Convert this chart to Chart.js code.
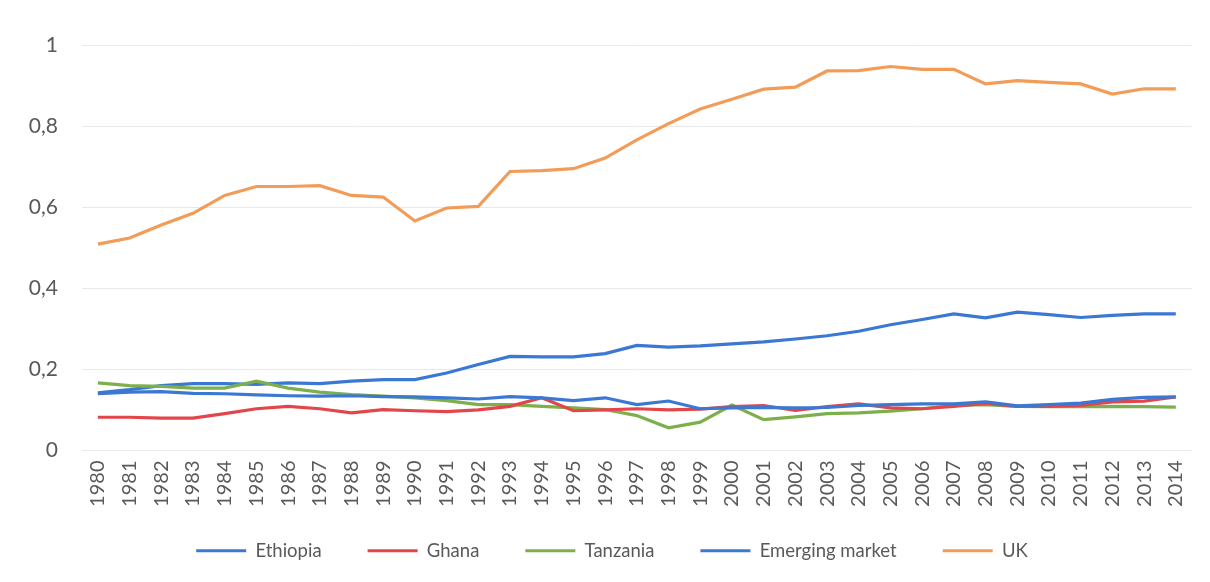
<!DOCTYPE html>
<html>
<head>
<meta charset="utf-8">
<script src="https://cdn.jsdelivr.net/npm/chart.js@4"></script>
<style>
html,body{margin:0;padding:0;background:#fff;}
#wrap{width:1210px;height:582px;position:relative;}
</style>
</head>
<body>
<div id="wrap"><canvas id="c" width="1210" height="582"></canvas></div>
<script>
const years = ["1980","1981","1982","1983","1984","1985","1986","1987","1988","1989","1990","1991","1992","1993","1994","1995","1996","1997","1998","1999","2000","2001","2002","2003","2004","2005","2006","2007","2008","2009","2010","2011","2012","2013","2014"];
const ethiopia = [0.140,0.144,0.145,0.141,0.140,0.137,0.135,0.134,0.135,0.133,0.132,0.130,0.127,0.133,0.130,0.123,0.130,0.113,0.122,0.103,0.105,0.106,0.105,0.106,0.111,0.113,0.115,0.115,0.120,0.110,0.113,0.117,0.126,0.131,0.132];
const ghana = [0.082,0.082,0.080,0.080,0.091,0.103,0.109,0.103,0.093,0.101,0.098,0.096,0.100,0.109,0.130,0.098,0.100,0.103,0.100,0.102,0.108,0.111,0.099,0.108,0.115,0.105,0.103,0.109,0.116,0.109,0.109,0.111,0.120,0.122,0.132];
const tanzania = [0.167,0.160,0.158,0.154,0.154,0.171,0.154,0.144,0.138,0.134,0.130,0.123,0.113,0.113,0.109,0.105,0.101,0.086,0.056,0.070,0.112,0.076,0.083,0.091,0.093,0.097,0.103,0.111,0.113,0.109,0.108,0.108,0.109,0.108,0.107];
const emerging = [0.142,0.150,0.160,0.165,0.165,0.163,0.167,0.165,0.171,0.175,0.175,0.191,0.212,0.232,0.231,0.231,0.239,0.259,0.255,0.258,0.263,0.268,0.275,0.283,0.294,0.310,0.323,0.337,0.327,0.341,0.335,0.328,0.333,0.337,0.337];
const uk = [0.509,0.524,0.556,0.585,0.629,0.651,0.651,0.653,0.629,0.625,0.566,0.598,0.602,0.688,0.690,0.695,0.721,0.766,0.806,0.842,0.866,0.891,0.896,0.936,0.937,0.947,0.940,0.940,0.904,0.912,0.908,0.904,0.879,0.892,0.892];
const seriesNames = ["Ethiopia","Ghana","Tanzania","Emerging market","UK"];
const yTicks = [0,0.2,0.4,0.6,0.8,1];

const colors = ["#3B78D3","#E2464B","#7DAF4C","#3B78D3","#F39C58"];
const seriesData = [ethiopia, ghana, tanzania, emerging, uk];

const datasets = seriesNames.map((n,i)=>({
  label:n,
  data:seriesData[i],
  borderColor:colors[i],
  backgroundColor:colors[i],
  borderWidth:3.2,
  pointRadius:0,
  tension:0,
  fill:false
}));

const FONT = "Lato, 'Open Sans', sans-serif";

// nudge the legend box after layout so its row sits where the reference has it
const legendShift = {
  id:'legendShift',
  afterLayout(chart){
    const lg = chart.legend;
    if (!lg) return;
    lg.top -= 15; lg.bottom -= 15;
    lg.left += 14; lg.right += 14;
  }
};

new Chart(document.getElementById('c'), {
  type:'line',
  data:{labels:years, datasets},
  plugins:[legendShift],
  options:{
    responsive:false,
    animation:false,
    layout:{padding:{left:0,right:14,top:45,bottom:-3}},
    plugins:{
      tooltip:{enabled:false},
      legend:{
        position:'bottom',
        labels:{
          usePointStyle:true,
          pointStyle:'line',
          pointStyleWidth:50,
          boxHeight:18,
          padding:46,
          color:'#595959',
          font:{family:FONT,size:18.5}
        }
      }
    },
    scales:{
      x:{
        offset:true,
        grid:{display:false,drawTicks:false},
        border:{display:false},
        ticks:{
          autoSkip:false,
          minRotation:90,
          maxRotation:90,
          padding:10,
          color:'#595959',
          font:{family:FONT,size:20}
        },
        afterFit:(s)=>{s.height=60;}
      },
      y:{
        min:0,max:1,
        afterBuildTicks:(s)=>{s.ticks=yTicks.map(v=>({value:v}));},
        grid:{color:'#E9E9E9',lineWidth:1,drawTicks:false},
        border:{display:false},
        ticks:{
          padding:24,
          color:'#595959',
          font:{family:FONT,size:21},
          callback:(v)=>String(Math.round(v*10)/10).replace('.',',')
        },
        afterFit:(s)=>{s.width=82;}
      }
    }
  }
});
</script>
</body>
</html>
